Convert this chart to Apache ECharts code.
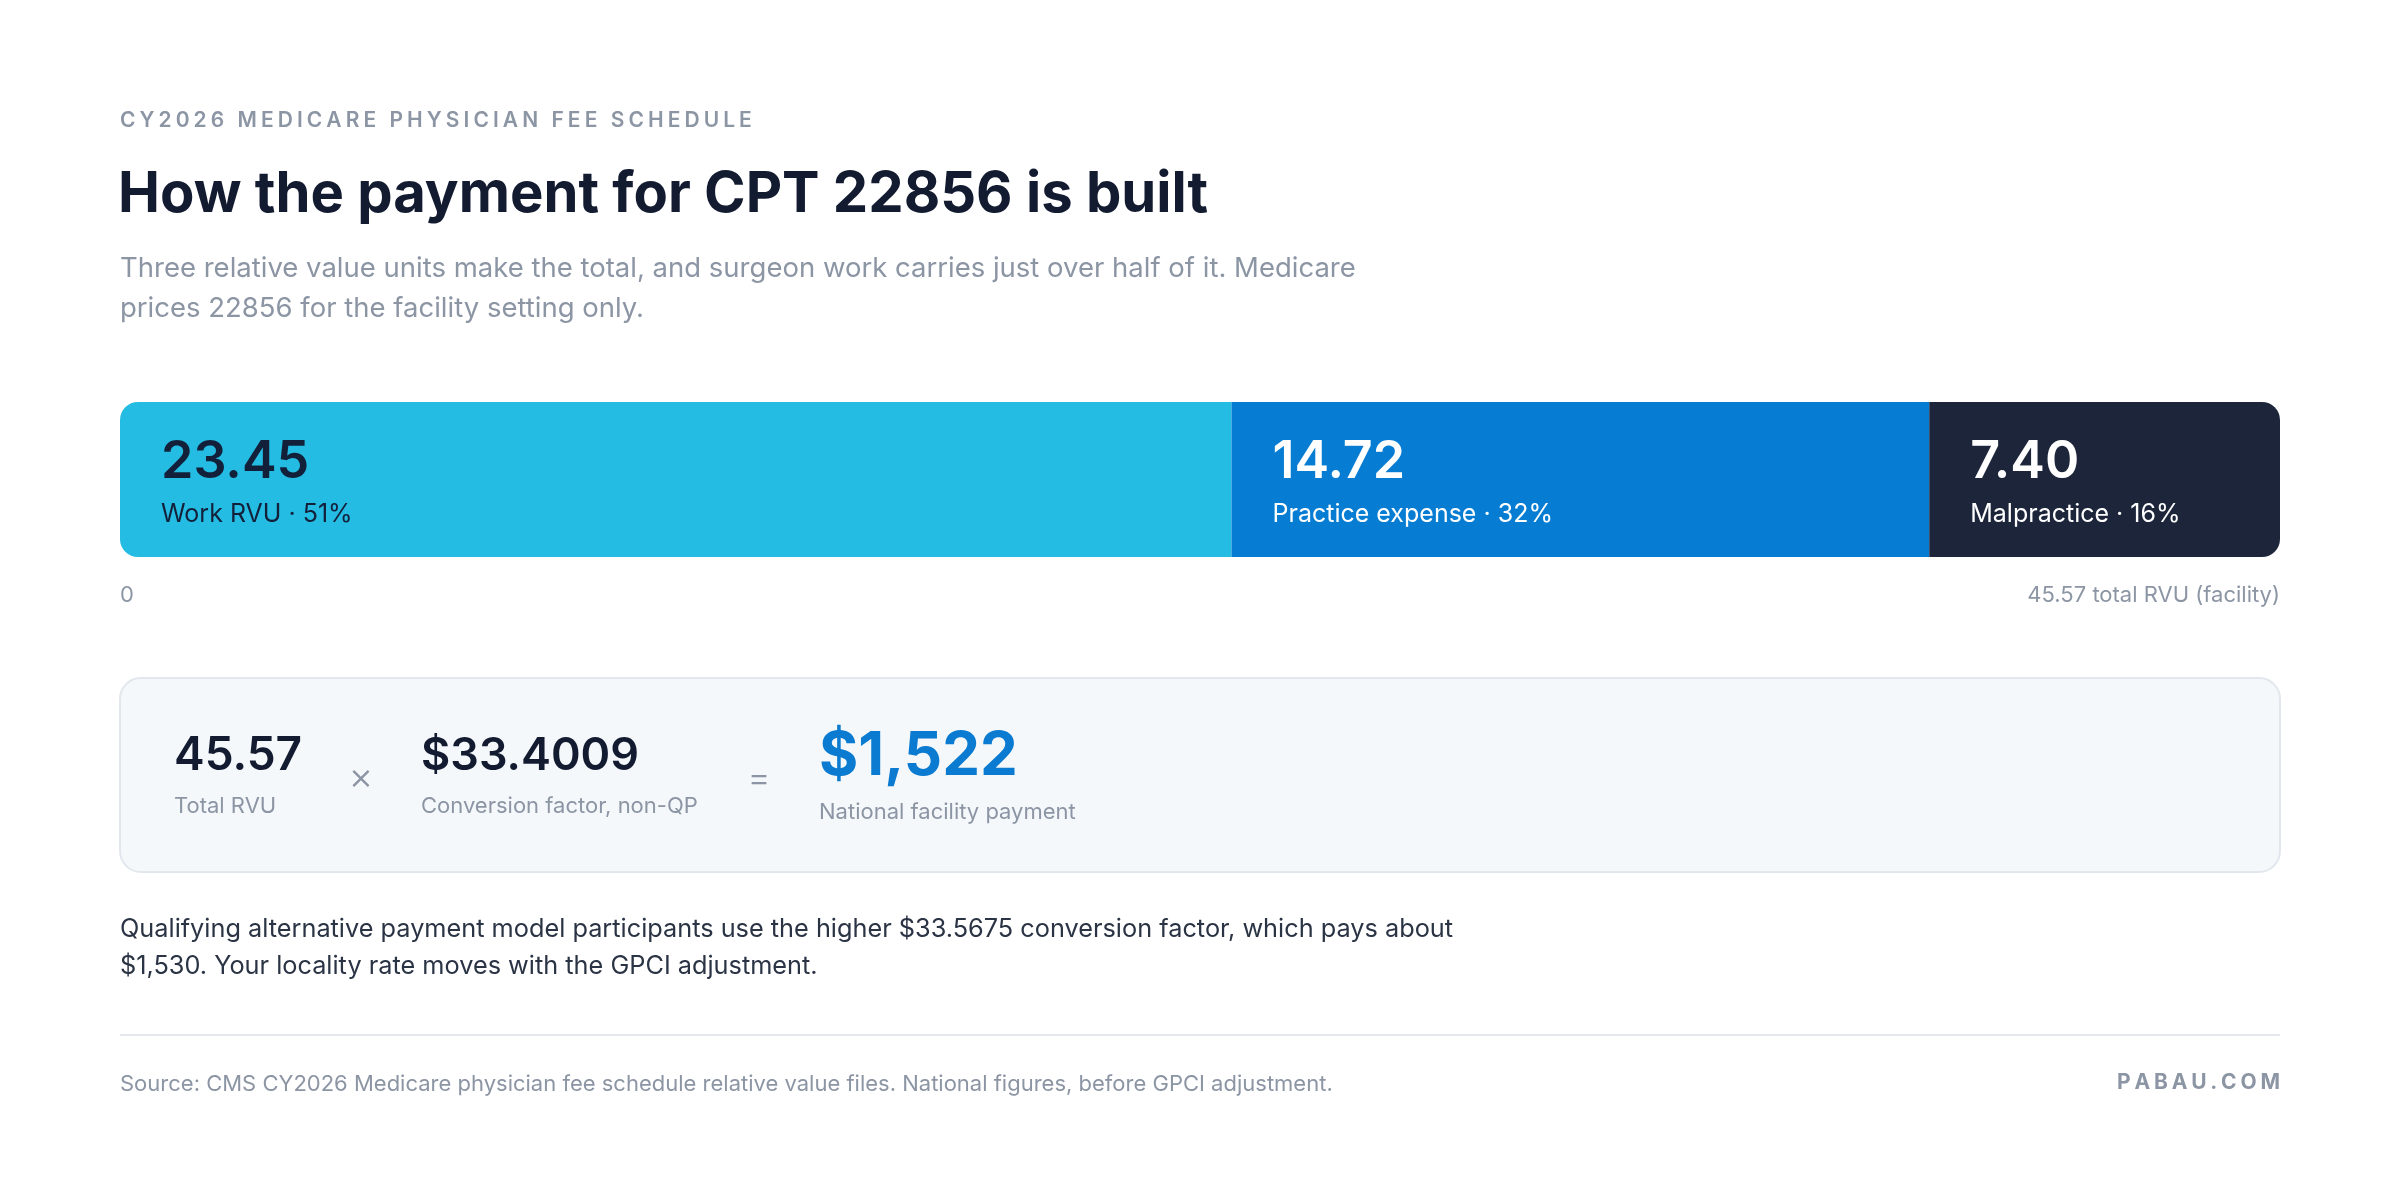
<!DOCTYPE html>
<html>
<head>
<meta charset="utf-8">
<title>CPT 22856 payment</title>
<script src="https://cdn.jsdelivr.net/npm/echarts@6/dist/echarts.min.js"></script>
<style>
  html, body { margin: 0; padding: 0; background: #fff; }
  #chart { width: 2400px; height: 1192px; }
</style>
</head>
<body>
<div id="chart"></div>
<script>
// RVU components for CPT 22856, facility setting
const parts = ['Work RVU', 'Practice expense', 'Malpractice']
const rvus = [23.45, 14.72, 7.40]
const partColors = ['#24bce2', '#067dd3', '#1c253a']
const valueColors = ['#13203a', '#ffffff', '#ffffff']
const conversionFactor = 33.4009
const qpConversionFactor = 33.5675

const FONT = 'Inter, "Noto Sans", sans-serif'
const MUTED = '#8c95a4'
const INK = '#131b31'

const total = +rvus.reduce((a, b) => a + b, 0).toFixed(2)
const payment = Math.round(total * conversionFactor)
const fmtMoney = n => '$' + n.toLocaleString('en-US')

const series = rvus.map((v, i) => {
  let r = 18
  let radius = i === 0 ? [r, 0, 0, r] : (i === rvus.length - 1 ? [0, r, r, 0] : 0)
  return {
    name: parts[i],
    type: 'bar',
    stack: 'rvu',
    barWidth: 155,
    data: [v],
    itemStyle: { color: partColors[i], borderRadius: radius },
    label: {
      show: true,
      position: 'insideLeft',
      distance: 41,
      offset: [0, 3],
      formatter: () => '{v|' + v.toFixed(2) + '}\n{l|' + parts[i] + ' \u00b7 ' + Math.round(v / total * 100) + '%}',
      rich: {
        v: { fontFamily: FONT, fontSize: 52, fontWeight: 600, color: valueColors[i], lineHeight: 64 },
        l: { fontFamily: FONT, fontSize: 25, color: valueColors[i], lineHeight: 40 }
      }
    },
    emphasis: { disabled: true }
  }
})

function txt (x, y, text, size, color, weight, align) {
  return {
    type: 'text',
    x: x,
    y: y,
    style: {
      text: text,
      fontFamily: FONT,
      fontSize: size,
      fontWeight: weight || 400,
      fill: color,
      align: align || 'left',
      verticalAlign: 'middle'
    }
  }
}

// letter-spaced caps text, laid out one glyph at a time
const measureCtx = document.createElement('canvas').getContext('2d')
function spaced (x, y, text, size, color, weight, spacing, alignRight) {
  measureCtx.font = weight + ' ' + size + 'px ' + FONT
  let widths = text.split('').map(c => measureCtx.measureText(c).width)
  let full = widths.reduce((a, b) => a + b, 0) + spacing * (text.length - 1)
  let cx = alignRight ? x - full : x
  let children = text.split('').map((c, i) => {
    let el = txt(cx, y, c, size, color, weight)
    cx += widths[i] + spacing
    return el
  })
  return { type: 'group', children: children }
}

const myChart = echarts.init(document.getElementById('chart'))
myChart.setOption({
  animation: false,
  grid: { left: 120, right: 120, top: 402, height: 155 },
  xAxis: {
    type: 'value',
    min: 0,
    max: total,
    splitLine: { show: false },
    axisLine: { show: false },
    axisTick: { show: false },
    axisLabel: {
      customValues: [0, total],
      alignMinLabel: 'left',
      alignMaxLabel: 'right',
      margin: 27,
      fontFamily: FONT,
      fontSize: 22,
      color: MUTED,
      formatter: v => v === 0 ? '0' : total.toFixed(2) + ' total RVU (facility)'
    }
  },
  yAxis: { type: 'category', data: ['CPT 22856'], show: false },
  series: series,
  graphic: [
    spaced(120, 121, 'CY2026 MEDICARE PHYSICIAN FEE SCHEDULE', 21, MUTED, 600, 4.05),
    txt(118, 195, 'How the payment for CPT 22856 is built', 56.2, INK, 700),
    txt(120, 269, 'Three relative value units make the total, and surgeon work carries just over half of it. Medicare', 27.5, MUTED),
    txt(120, 309, 'prices 22856 for the facility setting only.', 27.5, MUTED),
    {
      type: 'rect',
      shape: { x: 120, y: 678, width: 2160, height: 194, r: 21 },
      style: { fill: '#f5f8fb', stroke: '#e2e7ed', lineWidth: 2 }
    },
    txt(174, 756, total.toFixed(2), 46, INK, 600),
    txt(174, 806, 'Total RVU', 22, MUTED),
    txt(361, 778, '\u00d7', 38, MUTED, 300, 'center'),
    txt(421, 756, '$' + conversionFactor.toFixed(4), 45, INK, 600),
    txt(421, 806, 'Conversion factor, non-QP', 22, MUTED),
    txt(759, 779, '=', 36, MUTED, 300, 'center'),
    txt(819, 757, fmtMoney(payment), 60, '#0a7bd0', 700),
    txt(819, 812, 'National facility payment', 22, MUTED),
    txt(120, 929, 'Qualifying alternative payment model participants use the higher $' + qpConversionFactor.toFixed(4) + ' conversion factor, which pays about', 25.3, '#2b3445'),
    txt(120, 966, fmtMoney(Math.round(total * qpConversionFactor / 10) * 10) + '. Your locality rate moves with the GPCI adjustment.', 25.3, '#2b3445'),
    {
      type: 'line',
      shape: { x1: 120, y1: 1035, x2: 2280, y2: 1035 },
      style: { stroke: '#e4e7ec', lineWidth: 2 }
    },
    txt(120, 1084, 'Source: CMS CY2026 Medicare physician fee schedule relative value files. National figures, before GPCI adjustment.', 22, MUTED),
    spaced(2280, 1083, 'PABAU.COM', 21, MUTED, 700, 3.8, true)
  ]
})
</script>
</body>
</html>
